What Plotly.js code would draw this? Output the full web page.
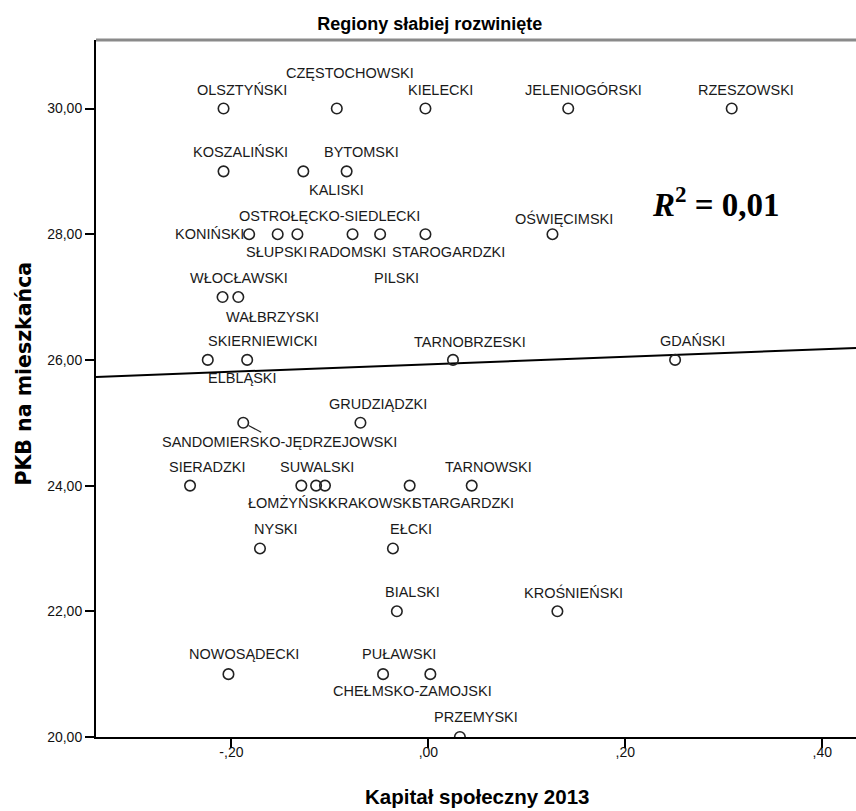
<!DOCTYPE html>
<html>
<head>
<meta charset="utf-8">
<script src="https://cdn.plot.ly/plotly-3.0.1.min.js"></script>
<style>
  html, body { margin: 0; padding: 0; background: #fff; }
  #chart { width: 856px; height: 811px; }
</style>
</head>
<body>
<div id="chart"></div>
<script>
// ---- DATA ----
const regions = [
  "OLSZTYŃSKI", "CZĘSTOCHOWSKI", "KIELECKI", "JELENIOGÓRSKI", "RZESZOWSKI",
  "KOSZALIŃSKI", "KALISKI", "BYTOMSKI",
  "KONIŃSKI", "SŁUPSKI", "OSTROŁĘCKO-SIEDLECKI", "RADOMSKI", "PILSKI", "STAROGARDZKI", "OŚWIĘCIMSKI",
  "WŁOCŁAWSKI", "WAŁBRZYSKI",
  "SKIERNIEWICKI", "ELBLĄSKI", "TARNOBRZESKI", "GDAŃSKI",
  "SANDOMIERSKO-JĘDRZEJOWSKI", "GRUDZIĄDZKI",
  "SIERADZKI", "SUWALSKI", "ŁOMŻYŃSKI", "KRAKOWSKI", "STARGARDZKI", "TARNOWSKI",
  "NYSKI", "EŁCKI",
  "BIALSKI", "KROŚNIEŃSKI",
  "NOWOSĄDECKI", "PUŁAWSKI", "CHEŁMSKO-ZAMOJSKI",
  "PRZEMYSKI"
];
const kapital2013 = [
  -0.208, -0.093, -0.003, 0.142, 0.308,
  -0.208, -0.127, -0.083,
  -0.182, -0.153, -0.133, -0.077, -0.049, -0.003, 0.126,
  -0.209, -0.193,
  -0.184, -0.224, 0.025, 0.2505,
  -0.188, -0.069,
  -0.242, -0.129, -0.114, -0.105, -0.019, 0.044,
  -0.171, -0.036,
  -0.032, 0.131,
  -0.203, -0.046, 0.002,
  0.032
];
const pkbPerCapita = [
  30, 30, 30, 30, 30,
  29, 29, 29,
  28, 28, 28, 28, 28, 28, 28,
  27, 27,
  26, 26, 26, 26,
  25, 25,
  24, 24, 24, 24, 24, 24,
  23, 23,
  22, 22,
  21, 21, 21,
  20
];
const xTickVals = [-0.2, 0, 0.2, 0.4];
const xTickText = ["-,20", ",00", ",20", ",40"];
const yTickVals = [20, 22, 24, 26, 28, 30];
const yTickText = ["20,00", "22,00", "24,00", "26,00", "28,00", "30,00"];
const r2Text = "0,01";
const chartTitle = "Regiony słabiej rozwinięte";
const xTitle = "Kapitał społeczny 2013";
const yTitle = "PKB na mieszkańca";

// ---- LABEL PLACEMENT (pixel offsets from each point; +dy = down) ----
const labelDx = [18, 13, 15, 15, 14, 17, 33, 15, -40, -1, 32, -5, 16, 23, 12, 16, 34, 16, 35, 17, 17, 36, 18, 17, 16, -26, 47, 53, 17, 16, 18, 16, 16, 16, 16, -18, 16];
const labelDy = [-19, -36, -19, -19, -19, -19, 19, -19, 0, 18, -18, 18, 44, 18, -16, -19, 20, -19, 18, -18, -19, 19, -19, -19, -19, 17, 17, 17, -19, -19, -19, -19, -19, -20, -20, 17, -20];
const leaderLabel = "SANDOMIERSKO-JĘDRZEJOWSKI";

// ---- LINEAR FIT (least squares from the data) ----
const n = kapital2013.length;
const mx = kapital2013.reduce((a, b) => a + b, 0) / n;
const my = pkbPerCapita.reduce((a, b) => a + b, 0) / n;
let sxy = 0, sxx = 0;
for (let i = 0; i < n; i++) {
  sxy += (kapital2013[i] - mx) * (pkbPerCapita[i] - my);
  sxx += (kapital2013[i] - mx) ** 2;
}
const slope = sxy / sxx;
const intercept = my - slope * mx;

const xRange = [-0.3375, 0.4342];
const yRange = [20, 31.09];

const labelFont = { family: "Liberation Sans, Arial, sans-serif", size: 14.5, color: "#1a1a1a" };

const traces = [
  {
    x: xRange,
    y: xRange.map(v => intercept + slope * v),
    mode: "lines",
    line: { color: "#000", width: 2 },
    hoverinfo: "skip",
    showlegend: false
  },
  {
    x: kapital2013,
    y: pkbPerCapita,
    text: regions,
    mode: "markers",
    marker: { symbol: "circle-open", size: 10.5, color: "#222", line: { width: 1.6, color: "#222" } },
    showlegend: false
  }
];

const annotations = regions.map((name, i) => {
  const a = {
    x: kapital2013[i], y: pkbPerCapita[i], xref: "x", yref: "y",
    text: name, font: labelFont, showarrow: false,
    xshift: labelDx[i], yshift: -labelDy[i],
    xanchor: "center", yanchor: "middle"
  };
  if (name === leaderLabel) {
    a.showarrow = true; a.arrowhead = 0; a.arrowwidth = 1.2; a.arrowcolor = "#222";
    a.ax = labelDx[i]; a.ay = labelDy[i]; a.standoff = 6;
    a.xshift = 0; a.yshift = 0;
  }
  return a;
});

annotations.push({
  xref: "paper", yref: "paper", x: 0.816, y: 0.768,
  xanchor: "center", yanchor: "middle", showarrow: false,
  text: "<b><i>R</i><sup>2</sup> = " + r2Text + "</b>",
  font: { family: "Liberation Serif, Times New Roman, serif", size: 33, color: "#000" }
});
annotations.push({
  xref: "paper", yref: "paper", x: 0.501, y: -0.086,
  xanchor: "center", yanchor: "middle", showarrow: false,
  text: "<b>" + xTitle + "</b>",
  font: { family: "Liberation Sans, Arial, sans-serif", size: 20.5, color: "#000" }
});
annotations.push({
  xref: "paper", yref: "paper", x: -0.096, y: 0.5215,
  xanchor: "center", yanchor: "middle", showarrow: false, textangle: -90,
  text: "<b>" + yTitle + "</b>",
  font: { family: "DejaVu Sans, Verdana, sans-serif", size: 20.5, color: "#000" }
});

const layout = {
  width: 856, height: 811,
  margin: { l: 96, r: 0, t: 40, b: 74, pad: 0 },
  paper_bgcolor: "#fff", plot_bgcolor: "#fff",
  title: {
    text: "<b>" + chartTitle + "</b>",
    x: 0.502, xanchor: "center", y: 0.971, yanchor: "middle",
    font: { family: "Liberation Sans, Arial, sans-serif", size: 18, color: "#000" }
  },
  xaxis: {
    range: xRange, tickvals: xTickVals, ticktext: xTickText,
    ticks: "outside", ticklen: 9, tickwidth: 2, tickcolor: "#000",
    ticklabelstandoff: -8,
    showline: true, linecolor: "#000", linewidth: 2,
    showgrid: false, zeroline: false,
    tickfont: { family: "Liberation Sans, Arial, sans-serif", size: 14, color: "#111" }
  },
  yaxis: {
    range: yRange, tickvals: yTickVals, ticktext: yTickText,
    ticks: "outside", ticklen: 9, tickwidth: 2, tickcolor: "#000",
    showline: true, linecolor: "#000", linewidth: 2,
    showgrid: false, zeroline: false,
    tickfont: { family: "Liberation Sans, Arial, sans-serif", size: 14, color: "#111" }
  },
  shapes: [
    { type: "line", xref: "paper", yref: "paper", x0: 0, x1: 1, y0: 1, y1: 1,
      line: { color: "#8a8a8a", width: 3 } }
  ],
  annotations: annotations,
  showlegend: false
};

Plotly.newPlot("chart", traces, layout, { displayModeBar: false, staticPlot: true });
</script>
</body>
</html>
